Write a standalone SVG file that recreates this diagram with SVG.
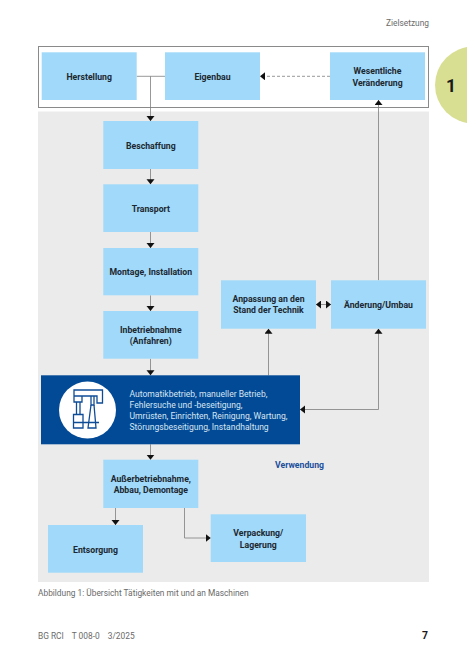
<svg xmlns="http://www.w3.org/2000/svg" width="467" height="662" viewBox="0 0 467 662">
<style>
text{font-family:Roboto,"Noto Sans","Liberation Sans",sans-serif}
.b{fill:#a0d9f9}
.t{font-size:8.7px;font-weight:700;fill:#1c2730;text-anchor:middle}
.l{fill:none;stroke:#7d7d7d;stroke-width:.8}
.w{font-size:8.55px;fill:#d5e6f3}
.g{font-size:8.35px;fill:#6a6a6a}
.i{fill:none;stroke:#0f4c96;stroke-width:1.3}
</style>
<defs>
<marker id="a" markerUnits="userSpaceOnUse" markerWidth="9" markerHeight="9" refX="5" refY="4" orient="auto"><path d="M0 0L5 4L0 8Z" fill="#111"/></marker>
<marker id="s" markerUnits="userSpaceOnUse" markerWidth="9" markerHeight="9" refX="0" refY="4" orient="auto"><path d="M5 0L0 4L5 8Z" fill="#111"/></marker>
</defs>
<rect width="467" height="662" fill="#fff"/>
<text x="429" y="25.500" text-anchor="end" class="g">Zielsetzung</text>
<circle cx="473.500" cy="85" r="38.500" fill="#d8df92"/>
<text x="451" y="92" font-size="17.500" font-weight="700" text-anchor="middle" fill="#1a1a1a">1</text>
<rect x="38.500" y="46.500" width="390" height="61" fill="#fff" stroke="#8a8a8a" stroke-width="1"/>
<rect x="38" y="111.500" width="391" height="470.500" fill="#ebebeb"/>
<g id="connectors">
<path class="l" d="M136.700 76.300H165"/>
<path class="l" d="M150.500 76.300V121" marker-end="url(#a)"/>
<path class="l" d="M330 76.300H260" stroke-dasharray="3 2" marker-end="url(#a)"/>
<path class="l" d="M378.500 280.300V100" marker-end="url(#a)"/>
<path class="l" d="M150.500 169V184.300" marker-end="url(#a)"/>
<path class="l" d="M150.500 232V248" marker-end="url(#a)"/>
<path class="l" d="M150.500 295.300V311" marker-end="url(#a)"/>
<path class="l" d="M150.500 358.700V375.300" marker-end="url(#a)"/>
<path class="l" d="M150.500 444.300V459.700" marker-end="url(#a)"/>
<path class="l" d="M268.500 375.300V328.700" marker-end="url(#a)"/>
<path class="l" d="M316 304.500H331" marker-start="url(#s)" marker-end="url(#a)"/>
<path class="l" d="M378.500 328.700V409.500H300" marker-start="url(#s)" marker-end="url(#a)"/>
<path class="l" d="M115.500 508V525" marker-end="url(#a)"/>
<path class="l" d="M184.500 508V538H210.700" marker-end="url(#a)"/>
</g>
<g id="herstellung"><rect class="b" x="41.700" y="52.300" width="95" height="47.700"/><text class="t" x="89.200" y="79.500">Herstellung</text></g>
<g id="eigenbau"><rect class="b" x="165" y="52.300" width="95" height="47.700"/><text class="t" x="212.500" y="79.500">Eigenbau</text></g>
<g id="wesentlich"><rect class="b" x="330" y="52.300" width="95" height="47.700"/><text class="t" x="377.500" y="74">Wesentliche</text><text class="t" x="377.500" y="85.500">Veränderung</text></g>
<g id="beschaffung"><rect class="b" x="103.300" y="121" width="95" height="48"/><text class="t" x="150.800" y="148.500">Beschaffung</text></g>
<g id="transport"><rect class="b" x="103.300" y="184.300" width="95" height="47.700"/><text class="t" x="150.800" y="211.500">Transport</text></g>
<g id="montage"><rect class="b" x="103.300" y="248" width="95" height="47.300"/><text class="t" x="150.800" y="275">Montage, Installation</text></g>
<g id="inbetrieb"><rect class="b" x="103.300" y="311" width="95" height="47.700"/><text class="t" x="150.800" y="332.500">Inbetriebnahme</text><text class="t" x="150.800" y="344">(Anfahren)</text></g>
<g id="anpassung"><rect class="b" x="221" y="280.300" width="95" height="48.400"/><text class="t" x="268.500" y="302">Anpassung an den</text><text class="t" x="268.500" y="313">Stand der Technik</text></g>
<g id="aenderung"><rect class="b" x="331" y="280.300" width="95" height="48.400"/><text class="t" x="378.500" y="308">Änderung/Umbau</text></g>
<g id="verwendung-box">
<rect x="41" y="375.300" width="259" height="69" fill="#034a96"/>
<circle cx="87.500" cy="410" r="28.500" fill="#fff"/>
<path class="i" d="M74 390H102.500V403H97V396H74ZM74 396V402H82V396M76.500 402V414.500M80 402V414.500M91 396V405H94V396"/>
<path class="i" d="M73.500 414.500H83V428H73.500ZM73.500 422.500H99M91 405L88 428H96L94 405"/>
<g class="w"><text x="129.500" y="396.500">Automatikbetrieb, manueller Betrieb,</text><text x="129.500" y="407.700">Fehlersuche und -beseitigung,</text><text x="129.500" y="419">Umrüsten, Einrichten, Reinigung, Wartung,</text><text x="129.500" y="430.300">Störungsbeseitigung, Instandhaltung</text></g>
</g>
<g id="ausser"><rect class="b" x="103.300" y="459.700" width="95" height="48.300"/><text class="t" x="150.800" y="481.500">Außerbetriebnahme,</text><text class="t" x="150.800" y="493">Abbau, Demontage</text></g>
<g id="entsorgung"><rect class="b" x="48" y="525" width="95" height="47.700"/><text class="t" x="95.500" y="552.500">Entsorgung</text></g>
<g id="verpackung"><rect class="b" x="210.700" y="514.300" width="95.300" height="47.700"/><text class="t" x="258.300" y="536">Verpackung/</text><text class="t" x="258.300" y="547.500">Lagerung</text></g>
<text x="299.500" y="467.500" font-size="8.700" font-weight="700" fill="#1b4f9c" text-anchor="middle">Verwendung</text>
<text x="38" y="596" class="g">Abbildung 1: Übersicht Tätigkeiten mit und an Maschinen</text>
<text x="38" y="639" class="g">BG RCI</text><text x="71.700" y="639" class="g">T 008-0</text><text x="107.700" y="639" class="g">3/2025</text>
<text x="428" y="639" font-size="10.500" font-weight="700" fill="#1a1a1a" text-anchor="end">7</text>
</svg>
